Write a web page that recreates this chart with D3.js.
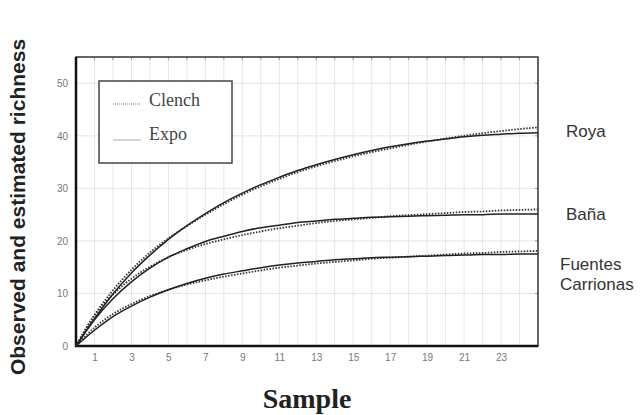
<!DOCTYPE html>
<html>
<head>
<meta charset="utf-8">
<script src="https://cdn.jsdelivr.net/npm/d3@7"></script>
<style>
  body { margin: 0; background: #fff; }
  svg { display: block; }
</style>
</head>
<body>
<svg id="chart" width="640" height="415"></svg>
<script>
// samples 0..25
const samples = d3.range(0, 26);

const royaExpo = [0, 5.2, 9.9, 13.9, 17.3, 20.3, 22.9, 25.2, 27.3, 29.1, 30.7, 32.1, 33.4, 34.5, 35.5, 36.4, 37.2, 37.9, 38.5, 39.0, 39.4, 39.8, 40.1, 40.3, 40.5, 40.6];
const royaClench = [0, 5.9, 10.6, 14.5, 17.8, 20.5, 22.8, 25.0, 27.0, 28.8, 30.4, 31.8, 33.1, 34.2, 35.2, 36.1, 36.9, 37.6, 38.3, 38.9, 39.5, 40.0, 40.5, 40.9, 41.3, 41.6];
const banaExpo = [0, 5.0, 9.0, 12.2, 14.8, 16.9, 18.5, 19.9, 20.9, 21.8, 22.5, 23.0, 23.5, 23.8, 24.1, 24.3, 24.5, 24.6, 24.7, 24.8, 24.9, 25.0, 25.0, 25.1, 25.1, 25.1];
const banaClench = [0, 5.8, 9.8, 12.8, 15.1, 16.9, 18.3, 19.4, 20.3, 21.1, 21.8, 22.4, 22.9, 23.4, 23.8, 24.1, 24.4, 24.7, 24.9, 25.1, 25.3, 25.5, 25.6, 25.8, 25.9, 26.0];
const fuentesExpo = [0, 3.0, 5.6, 7.6, 9.3, 10.7, 11.9, 12.9, 13.7, 14.3, 14.9, 15.4, 15.8, 16.1, 16.4, 16.6, 16.8, 16.9, 17.0, 17.1, 17.2, 17.3, 17.4, 17.4, 17.5, 17.5];
const fuentesClench = [0, 3.5, 6.1, 8.0, 9.5, 10.7, 11.7, 12.5, 13.2, 13.8, 14.4, 14.9, 15.3, 15.7, 16.0, 16.3, 16.6, 16.8, 17.0, 17.2, 17.4, 17.6, 17.7, 17.9, 18.0, 18.1];

const xTicks = [1, 3, 5, 7, 9, 11, 13, 15, 17, 19, 21, 23];
const yTicks = [0, 10, 20, 30, 40, 50];
const siteLabels = [['Roya'], ['Baña'], ['Fuentes', 'Carrionas']];

const plotLeft = 76, plotRight = 538, plotTop = 57, plotBottom = 346;

const svg = d3.select('#chart');
const x = d3.scaleLinear().domain([0, 25]).range([plotLeft, plotRight]);
const y = d3.scaleLinear().domain([0, 55]).range([plotBottom, plotTop]);

// grid
svg.append('g')
  .selectAll('line')
  .data(d3.range(1, 25))
  .join('line')
  .attr('x1', (d) => x(d)).attr('x2', (d) => x(d))
  .attr('y1', plotTop).attr('y2', plotBottom)
  .attr('stroke', '#e6e6e6').attr('stroke-width', 1);

svg.append('g')
  .selectAll('line')
  .data(yTicks.slice(1))
  .join('line')
  .attr('x1', plotLeft).attr('x2', plotRight)
  .attr('y1', (d) => y(d)).attr('y2', (d) => y(d))
  .attr('stroke', '#e6e6e6').attr('stroke-width', 1);

// small ticks on top and right edges
svg.append('g')
  .selectAll('line')
  .data(d3.range(1, 25))
  .join('line')
  .attr('x1', (d) => x(d)).attr('x2', (d) => x(d))
  .attr('y1', plotTop).attr('y2', plotTop + 3)
  .attr('stroke', '#999');

svg.append('g')
  .selectAll('line')
  .data(yTicks.slice(1))
  .join('line')
  .attr('x1', plotRight - 3).attr('x2', plotRight)
  .attr('y1', (d) => y(d)).attr('y2', (d) => y(d))
  .attr('stroke', '#999');

// axes
const xAxis = svg.append('g')
  .attr('transform', `translate(0,${plotBottom})`)
  .call(d3.axisBottom(x).tickValues(xTicks).tickSize(0).tickPadding(8));
xAxis.select('.domain').remove();
xAxis.selectAll('text')
  .attr('fill', '#777').attr('font-size', 10).attr('font-family', 'Liberation Sans, Arial, sans-serif');

const yAxis = svg.append('g')
  .attr('transform', `translate(${plotLeft},0)`)
  .call(d3.axisLeft(y).tickValues(yTicks).tickSize(0).tickPadding(8));
yAxis.select('.domain').remove();
yAxis.selectAll('text')
  .attr('fill', '#777').attr('font-size', 10).attr('font-family', 'Liberation Sans, Arial, sans-serif');

// frame
svg.append('rect')
  .attr('x', plotLeft).attr('y', plotTop)
  .attr('width', plotRight - plotLeft).attr('height', plotBottom - plotTop)
  .attr('fill', 'none').attr('stroke', '#333').attr('stroke-width', 1.5);

svg.append('path')
  .attr('d', `M${plotLeft},${plotTop}V${plotBottom}H${plotRight}`)
  .attr('fill', 'none').attr('stroke', '#111').attr('stroke-width', 2.5);

// curves
const line = d3.line()
  .x((d, i) => x(samples[i]))
  .y((d) => y(d))
  .curve(d3.curveMonotoneX);

const expoSeries = [royaExpo, banaExpo, fuentesExpo];
const clenchSeries = [royaClench, banaClench, fuentesClench];

svg.append('g')
  .selectAll('path')
  .data(clenchSeries)
  .join('path')
  .attr('d', line)
  .attr('fill', 'none')
  .attr('stroke', '#333')
  .attr('stroke-width', 1.8)
  .attr('stroke-dasharray', '1.5,1.5');

svg.append('g')
  .selectAll('path')
  .data(expoSeries)
  .join('path')
  .attr('d', line)
  .attr('fill', 'none')
  .attr('stroke', '#222')
  .attr('stroke-width', 1.5);

// legend
const legend = svg.append('g');
legend.append('rect')
  .attr('x', 99).attr('y', 81).attr('width', 133).attr('height', 82)
  .attr('fill', '#fff').attr('stroke', '#444').attr('stroke-width', 1.5);
legend.append('line')
  .attr('x1', 113).attr('x2', 141).attr('y1', 104).attr('y2', 104)
  .attr('stroke', '#777').attr('stroke-width', 1).attr('stroke-dasharray', '1,1');
legend.append('line')
  .attr('x1', 113).attr('x2', 141).attr('y1', 140).attr('y2', 140)
  .attr('stroke', '#aaa').attr('stroke-width', 1);
legend.append('text')
  .attr('x', 149).attr('y', 106)
  .attr('font-family', 'Liberation Serif, Times New Roman, serif')
  .attr('font-size', 18).attr('fill', '#444')
  .text('Clench');
legend.append('text')
  .attr('x', 149).attr('y', 140)
  .attr('font-family', 'Liberation Serif, Times New Roman, serif')
  .attr('font-size', 18).attr('fill', '#444')
  .text('Expo');

// site labels
const siteX = [566, 566, 560];
const siteY = [131, 214, 264];
siteLabels.forEach((lines, i) => {
  const t = svg.append('text')
    .attr('x', siteX[i]).attr('y', siteY[i])
    .attr('font-family', 'Liberation Sans, Arial, sans-serif')
    .attr('font-size', 17).attr('fill', '#333');
  lines.forEach((ln, j) => {
    t.append('tspan').attr('x', siteX[i]).attr('dy', j === 0 ? '0.35em' : '1.2em').text(ln);
  });
});

// axis titles
svg.append('text')
  .attr('transform', 'translate(18,207) rotate(-90)')
  .attr('text-anchor', 'middle')
  .attr('dy', '0.35em')
  .attr('font-family', 'Liberation Sans, Arial, sans-serif')
  .attr('font-weight', 'bold')
  .attr('font-size', 21)
  .attr('fill', '#222')
  .text('Observed and estimated richness');

svg.append('text')
  .attr('x', 307).attr('y', 398)
  .attr('text-anchor', 'middle')
  .attr('dy', '0.35em')
  .attr('font-family', 'Liberation Serif, Times New Roman, serif')
  .attr('font-weight', 'bold')
  .attr('font-size', 28)
  .attr('fill', '#222')
  .text('Sample');
</script>
</body>
</html>
